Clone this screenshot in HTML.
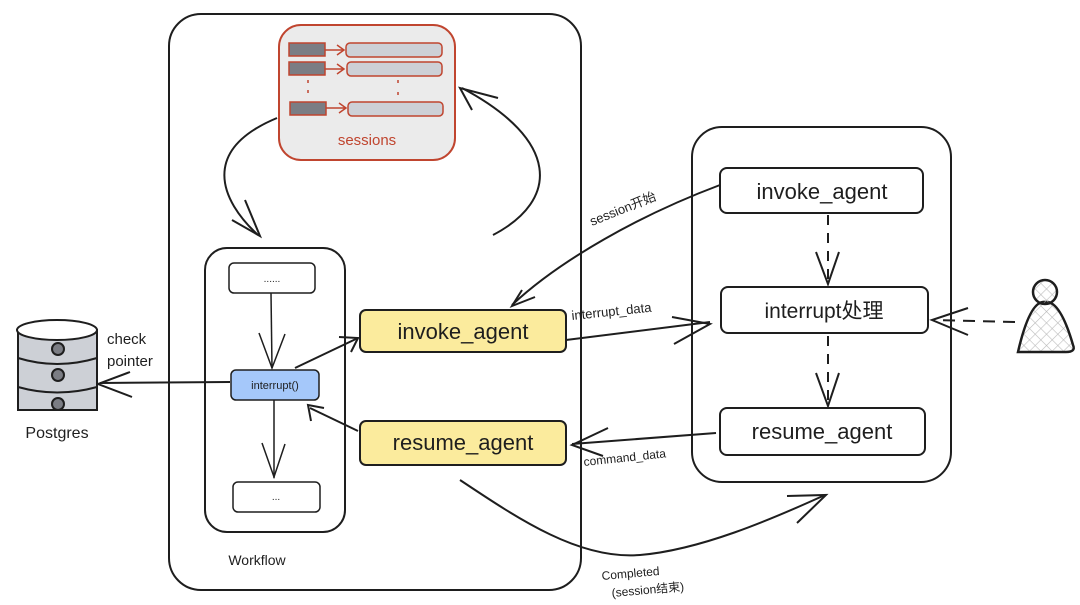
<!DOCTYPE html>
<html><head><meta charset="utf-8"><style>
html,body{margin:0;padding:0;background:#fff;width:1080px;height:605px;overflow:hidden}
svg text{font-family:"Liberation Sans","Noto Sans CJK SC",sans-serif;fill:#1e1e1e}
</style></head><body>
<svg width="1080" height="605" viewBox="0 0 1080 605" xmlns="http://www.w3.org/2000/svg">
<defs>
<pattern id="hatch" width="8" height="8" patternUnits="userSpaceOnUse" patternTransform="rotate(45)">
<line x1="0" y1="0" x2="0" y2="8" stroke="#bbb" stroke-width="1.2"/><line x1="0" y1="0" x2="8" y2="0" stroke="#bbb" stroke-width="1.2"/></pattern>
</defs>
<g fill="none" stroke="#1e1e1e" stroke-width="2">
<!-- workflow container -->
<rect x="169" y="14" width="412" height="576" rx="32"/>
<!-- right container -->
<rect x="692" y="127" width="259" height="355" rx="30"/>
<!-- inner workflow -->
<rect x="205" y="248" width="140" height="284" rx="22"/>
<rect x="229" y="263" width="86" height="30" rx="5" stroke-width="1.5"/>
<rect x="231" y="370" width="88" height="30" rx="5" fill="#a5c8fa" stroke-width="1.5"/>
<rect x="233" y="482" width="87" height="30" rx="5" stroke-width="1.5"/>
<line x1="271" y1="293" x2="272" y2="368" stroke-width="1.5"/>
<path d="M259 333 L272 368 L285 334" stroke-width="1.5"/>
<line x1="274" y1="400" x2="274" y2="478" stroke-width="1.5"/>
<path d="M262 443 L274 477 L285 444" stroke-width="1.5"/>
<!-- yellow boxes -->
<rect x="360" y="310" width="206" height="42" rx="6" fill="#fbeb9d"/>
<rect x="360" y="421" width="206" height="44" rx="6" fill="#fbeb9d"/>
<!-- right boxes -->
<rect x="720" y="168" width="203" height="45" rx="7"/>
<rect x="721" y="287" width="207" height="46" rx="7"/>
<rect x="720" y="408" width="205" height="47" rx="7"/>
<line x1="828" y1="215" x2="828" y2="284" stroke-dasharray="10 8"/>
<path d="M816 252 L828 284 L839 252"/>
<line x1="828" y1="336" x2="828" y2="406" stroke-dasharray="10 8"/>
<path d="M816 373 L828 406 L839 373"/>
<!-- person arrow -->
<line x1="1015" y1="322" x2="934" y2="320" stroke-dasharray="12 8"/>
<path d="M968 308 L932 320 L968 335"/>
<!-- arrows -->
<path d="M720 185 C640 215 560 260 512 305"/>
<path d="M522 290 L512 306 L535 297" />
<path d="M566 340 L710 322"/>
<path d="M672 317 L710 324 L674 344"/>
<path d="M716 433 L572 444"/>
<path d="M608 428 L572 445 L603 456"/>
<path d="M295 368 L358 338"/><path d="M339 337 L358 338 L351 352"/>
<path d="M358 431 L310 408"/><path d="M311 421 L308 405 L324 408"/>
<path d="M230 382 L100 383"/><path d="M130 372 L98 384 L132 397"/>
<path d="M460 480 C520 520 580 560 640 555 C700 550 770 520 825 495"/>
<path d="M787 496 L826 495 L797 523"/>
<path d="M277 118 C200 150 220 200 258 235"/><path d="M232 220 L260 236 L245 200"/>
<path d="M493 235 C560 200 560 140 462 88"/><path d="M472 110 L460 88 L498 98"/>
</g>
<!-- sessions -->
<rect x="279" y="25" width="176" height="135" rx="22" fill="#ebebeb" stroke="#c0452f" stroke-width="2"/>
<g stroke="#c0452f" stroke-width="1.5">
<rect x="289" y="43" width="36" height="13" fill="#7b7d84"/><rect x="346" y="43" width="96" height="14" rx="4" fill="#cdd0d6"/>
<rect x="289" y="62" width="36" height="13" fill="#7b7d84"/><rect x="347" y="62" width="95" height="14" rx="4" fill="#cdd0d6"/>
<rect x="290" y="102" width="36" height="13" fill="#7b7d84"/><rect x="348" y="102" width="95" height="14" rx="4" fill="#cdd0d6"/>
<path d="M325 50 H344 M337 45 L344 50 L337 55 M325 69 H344 M337 64 L344 69 L337 74 M326 108 H346 M339 103 L346 108 L339 113" fill="none"/>
<path d="M308 80 v3 M308 90 v3 M398 80 v3 M398 92 v3" fill="none"/>
</g>
<text x="367" y="145" font-size="15" text-anchor="middle" style="fill:#c0452f">sessions</text>
<!-- DB -->
<g stroke="#1e1e1e" stroke-width="2">
<rect x="18" y="330" width="79" height="80" fill="#cdd0d6"/>
<ellipse cx="57" cy="330" rx="40" ry="10" fill="#fff"/>
<path d="M18 358 Q57 370 97 358 M18 387 Q57 398 97 387" fill="none"/>
<circle cx="58" cy="349" r="6" fill="#7b7d84"/><circle cx="58" cy="375" r="6" fill="#7b7d84"/><circle cx="58" cy="404" r="6" fill="#7b7d84"/>
</g>
<text x="57" y="438" font-size="16" text-anchor="middle">Postgres</text>
<text x="107" y="344" font-size="15">check</text>
<text x="107" y="366" font-size="15">pointer</text>
<!-- person -->
<g stroke="#1e1e1e" stroke-width="2.5">
<path d="M1018 352 Q1030 300 1045 302 Q1060 300 1073 345 Q1076 352 1066 352 Z" fill="url(#hatch)"/>
<circle cx="1045" cy="292" r="12" fill="url(#hatch)"/>
</g>
<!-- text -->
<text x="272" y="282" font-size="10" text-anchor="middle">......</text>
<text x="275" y="389" font-size="11" text-anchor="middle">interrupt()</text>
<text x="276" y="500" font-size="10" text-anchor="middle">...</text>
<text x="463" y="339" font-size="22" text-anchor="middle">invoke_agent</text>
<text x="463" y="450" font-size="22" text-anchor="middle">resume_agent</text>
<text x="822" y="199" font-size="22" text-anchor="middle">invoke_agent</text>
<text x="824" y="318" font-size="21" text-anchor="middle">interrupt处理</text>
<text x="822" y="439" font-size="22" text-anchor="middle">resume_agent</text>
<text x="257" y="565" font-size="14" text-anchor="middle">Workflow</text>
<text x="592" y="226" font-size="13" transform="rotate(-22 592 226)">session开始</text>
<text x="572" y="320" font-size="13" transform="rotate(-6 572 320)">interrupt_data</text>
<text x="584" y="466" font-size="12" transform="rotate(-6 584 466)">command_data</text>
<text x="602" y="580" font-size="12" transform="rotate(-5 602 580)">Completed</text>
<text x="612" y="597" font-size="12" transform="rotate(-5 612 597)">(session结束)</text>
</svg>
</body></html>
